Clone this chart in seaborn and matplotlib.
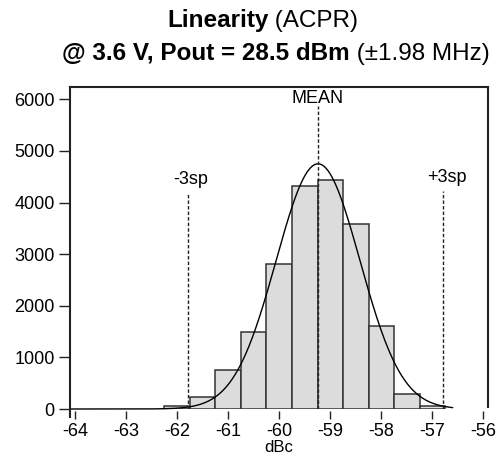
import matplotlib
matplotlib.use("Agg")
import matplotlib.pyplot as plt
import numpy as np
import seaborn as sns

# histogram bins (dBc) and counts
bin_edges = [-62.25, -61.75, -61.25, -60.75, -60.25, -59.75, -59.25,
             -58.75, -58.25, -57.75, -57.25, -56.75]
bin_counts = [62, 232, 762, 1497, 2805, 4327, 4443, 3590, 1600, 284, 58]

# fitted normal curve and marker lines
fit_mean = -59.24
fit_sigma = 0.82
fit_peak = 4750
curve_range = (-64.1, -56.6)
minus_3sp = -61.78
plus_3sp = -56.80

x_ticks = [-64, -63, -62, -61, -60, -59, -58, -57, -56]
y_ticks = [0, 1000, 2000, 3000, 4000, 5000, 6000]

sns.set_style("ticks")
plt.rcParams["font.family"] = ["Liberation Sans", "DejaVu Sans"]
plt.rcParams.update({"text.color": "black", "axes.labelcolor": "black",
                     "xtick.color": "black", "ytick.color": "black"})

W, H = 502, 462
fig = plt.figure(figsize=(W / 100, H / 100), dpi=100)
ax = fig.add_axes([70 / W, 53 / H, 418 / W, 322 / H])

centers = [(a + b) / 2 for a, b in zip(bin_edges[:-1], bin_edges[1:])]
sns.histplot(x=centers, weights=bin_counts, bins=bin_edges, ax=ax,
             color="#dcdcdc", edgecolor="#333333", linewidth=1.1, alpha=1)

xs = np.linspace(curve_range[0], curve_range[1], 400)
ys = fit_peak * np.exp(-0.5 * ((xs - fit_mean) / fit_sigma) ** 2)
sns.lineplot(x=xs, y=ys, ax=ax, color="black", linewidth=1.0, clip_on=False)

dash = dict(color="#222222", linewidth=1.0, linestyle=(0, (2.5, 1.5)))
ax.plot([fit_mean, fit_mean], [0, 5874], **dash)
ax.plot([minus_3sp, minus_3sp], [0, 4172], **dash)
ax.plot([plus_3sp, plus_3sp], [0, 4230], **dash)

ax.text(fit_mean, 6020, "MEAN", ha="center", va="center", fontsize=13)
ax.text(-61.73, 4443, "-3sp", ha="center", va="center", fontsize=13)
ax.text(-56.71, 4482, "+3sp", ha="center", va="center", fontsize=13)

ax.set_xlim(-64.1, -55.91)
ax.set_ylim(0, 6238)
ax.set_xticks(x_ticks)
ax.set_yticks(y_ticks)
ax.set_xticklabels([str(t) for t in x_ticks])
ax.set_ylabel("")
ax.set_xlabel("dBc", fontsize=12, labelpad=0)

for side in ("top", "left", "right"):
    ax.spines[side].set_visible(True)
    ax.spines[side].set_color("#222222")
    ax.spines[side].set_linewidth(1.5)
ax.spines["bottom"].set_position(("outward", 1.5))
ax.spines["bottom"].set_visible(False)
ax.spines["left"].set_bounds(-155, 6238)
ax.spines["right"].set_bounds(45, 6238)

ax.tick_params(axis="x", direction="out", length=5.5, width=1.0,
               color="#222222", labelsize=13, pad=3)
ax.tick_params(axis="y", direction="out", length=8, width=1.0,
               color="#222222", labelsize=13, pad=3)

# two-line title with bold and regular parts
renderer = fig.canvas.get_renderer()
inv = fig.transFigure.inverted()
title_lines = [
    ("Linearity", " (ACPR)", 167, 27),
    ("@ 3.6 V, Pout = 28.5 dBm", " (\u00b11.98 MHz)", 62, 60),
]
for bold, regular, x0, base in title_lines:
    t = fig.text(x0 / W, 1 - base / H, bold, fontsize=17.5,
                 fontweight="bold", ha="left", va="baseline")
    bb = t.get_window_extent(renderer)
    x1 = inv.transform((bb.x1, 0))[0]
    fig.text(x1, 1 - base / H, regular, fontsize=17.5,
             ha="left", va="baseline")

fig.savefig("out.png", dpi=100)
